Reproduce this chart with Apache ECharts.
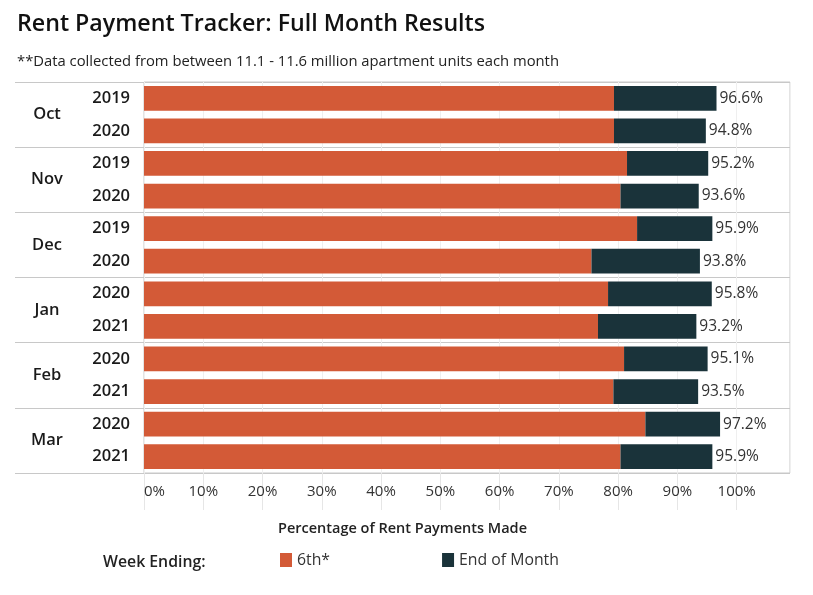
<!DOCTYPE html>
<html>
<head>
<meta charset="utf-8">
<script src="https://cdn.jsdelivr.net/npm/echarts@6/dist/echarts.min.js"></script>
<style>
html,body{margin:0;padding:0;background:#fff;}
#chart{width:813px;height:595px;}
</style>
</head>
<body>
<div id="chart"></div>
<script>
const months = ['Oct', 'Nov', 'Dec', 'Jan', 'Feb', 'Mar'];
const rowKeys = ['Oct 2019', 'Oct 2020', 'Nov 2019', 'Nov 2020', 'Dec 2019', 'Dec 2020',
                 'Jan 2020', 'Jan 2021', 'Feb 2020', 'Feb 2021', 'Mar 2020', 'Mar 2021'];
const sixth = [79.3, 79.3, 81.5, 80.4, 83.2, 75.5, 78.3, 76.6, 81.0, 79.2, 84.6, 80.4];
const endOfMonth = [17.3, 15.5, 13.7, 13.2, 12.7, 18.3, 17.5, 16.6, 14.1, 14.3, 12.6, 15.5];
const totals = [96.6, 94.8, 95.2, 93.6, 95.9, 93.8, 95.8, 93.2, 95.1, 93.5, 97.2, 95.9];
const xTicks = [0, 10, 20, 30, 40, 50, 60, 70, 80, 90, 100];

const FONT = '"Open Sans", "Noto Sans", sans-serif';
const LINE = '#c8c8c8';
const chart = echarts.init(document.getElementById('chart'), null, {renderer: 'canvas'});

chart.setOption({
  animation: false,
  textStyle: {fontFamily: FONT},
  title: [
    {text: 'Rent Payment Tracker: Full Month Results', left: 12, top: 8,
     textStyle: {fontFamily: FONT, fontSize: 23.2, fontWeight: 600, color: '#111'}},
    {text: '**Data collected from between 11.1 - 11.6 million apartment units each month', left: 12, top: 49,
     textStyle: {fontFamily: FONT, fontSize: 14.8, fontWeight: 'normal', color: '#222'}}
  ],
  grid: {left: 144, right: 23, top: 82, bottom: 122, show: true, borderColor: LINE, borderWidth: 1,
         outerBoundsMode: 'none', containLabel: false},
  legend: {
    data: ['6th*', 'End of Month'], left: 275, top: 547, itemWidth: 12, itemHeight: 14, itemGap: 112,
    icon: 'rect', textStyle: {fontFamily: FONT, fontSize: 15.8, color: '#333'}
  },
  graphic: [
    {type: 'text', left: 103, top: 554, style: {text: 'Week Ending:', font: '600 15.8px ' + FONT, fill: '#222'}},
    {type: 'text', left: 278, top: 521, style: {text: 'Percentage of Rent Payments Made', font: '600 14.5px ' + FONT, fill: '#222'}}
  ],
  xAxis: {
    type: 'value', min: 0, max: 109, interval: 10,
    axisLine: {show: false},
    axisTick: {show: true, length: 37, lineStyle: {color: '#e6e6e6'}},
    splitLine: {show: true, lineStyle: {color: '#efefef'}},
    axisLabel: {
      fontFamily: FONT, fontSize: 15, color: '#333', margin: 11,
      showMaxLabel: false, alignMinLabel: 'left',
      formatter: v => xTicks.indexOf(v) >= 0 ? v + '%' : ''
    }
  },
  yAxis: [
    {
      type: 'category', data: rowKeys, inverse: true,
      axisLine: {show: false}, axisTick: {show: false}, splitLine: {show: false},
      axisLabel: {fontFamily: FONT, fontSize: 16.5, fontWeight: 600, color: '#1a1a1a', margin: 14,
                  formatter: v => v.split(' ')[1]}
    },
    {
      type: 'category', data: months, inverse: true, position: 'left',
      axisLine: {show: false},
      axisTick: {show: true, length: 129, lineStyle: {color: LINE}},
      splitLine: {show: true, lineStyle: {color: LINE}},
      axisLabel: {fontFamily: FONT, fontSize: 16.5, fontWeight: 600, color: '#1a1a1a', margin: 97, align: 'center'}
    }
  ],
  series: [
    {
      name: '6th*', type: 'bar', stack: 'total', yAxisIndex: 0, barWidth: '76%',
      itemStyle: {color: '#d35a37'}, data: sixth
    },
    {
      name: 'End of Month', type: 'bar', stack: 'total', yAxisIndex: 0, barWidth: '76%',
      itemStyle: {color: '#1a333a'}, data: endOfMonth,
      label: {show: true, position: 'right', distance: 3, fontFamily: FONT, fontSize: 15.5, color: '#333',
              formatter: p => totals[p.dataIndex].toFixed(1) + '%'}
    }
  ]
});
</script>
</body>
</html>
